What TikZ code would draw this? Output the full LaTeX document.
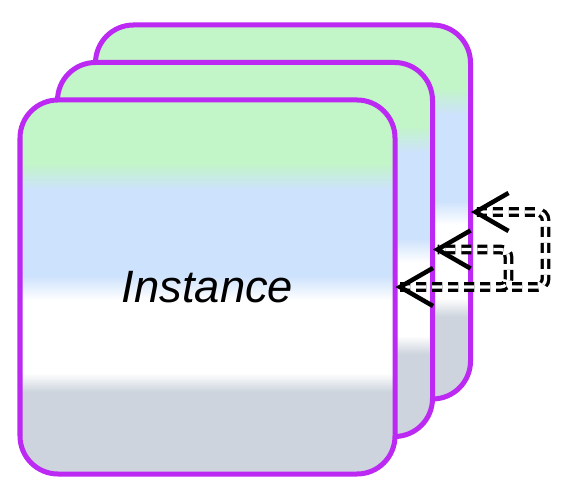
\documentclass[tikz,border=0pt]{standalone}
\usepackage{fontspec}
\setmainfont{Liberation Sans}
\usepackage{tikz}
\definecolor{cardline}{RGB}{187,41,242}
\definecolor{topgreen}{RGB}{194,245,200}
\definecolor{midblue}{RGB}{205,226,252}
\definecolor{lowgray}{RGB}{205,212,221}
\pgfdeclareverticalshading{cardfade}{100bp}{color(0bp)=(lowgray); color(36bp)=(lowgray);
  color(38.5bp)=(white); color(48.25bp)=(white); color(51.5bp)=(midblue); color(63bp)=(midblue);
  color(66.5bp)=(topgreen); color(100bp)=(topgreen)}
\tikzset{
  card/.style={draw=cardline,line width=0.1cm,shade,shading=cardfade,rounded corners=0.76cm,
    minimum width=7.5cm,minimum height=7.48cm,inner sep=0pt,
    font=\fontsize{25.8}{30}\selectfont\itshape},
  link/.style={double,line width=0.065cm,double distance=0.065cm,dash pattern=on 0.2cm off 0.12cm,
    rounded corners=0.16cm},
  vee/.style={line width=0.09cm}
}
\begin{document}
\begin{tikzpicture}
        \useasboundingbox (0,0) rectangle (11.56,9.94);
        \foreach \n/\x/\y/\t in {back/5.66/5.7/,mid/4.9/4.95/,front/4.15/4.2/Instance}
          \node[card] (\n) at (\x,\y) {\t};
        \foreach \n in {back,mid,front}
          \coordinate (tip\n) at ([xshift=0.05cm]\n.east);
        \coordinate (outA) at ([xshift=1.4cm]tipback);
        \coordinate (outB) at ([xshift=1.42cm]tipmid);
        \draw[link] (tipfront) -| (outA) -- (tipback);
        \draw[link] (tipfront) -| (outB) -- (tipmid);
        \foreach \n in {back,mid,front}
          \draw[vee] ([shift={(0.66,0.38)}]tip\n) -- (tip\n) -- ([shift={(0.66,-0.38)}]tip\n);
      \end{tikzpicture}
\end{document}
